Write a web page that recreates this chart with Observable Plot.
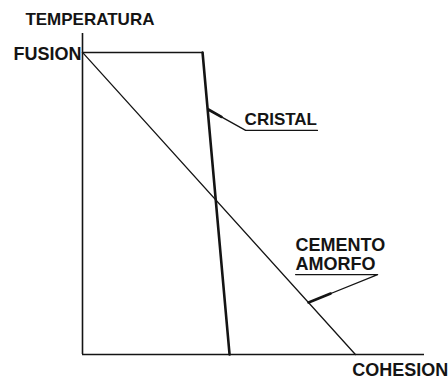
<!DOCTYPE html>
<html>
<head>
<meta charset="utf-8">
<script src="https://cdn.jsdelivr.net/npm/d3@7"></script>
<script src="https://cdn.jsdelivr.net/npm/@observablehq/plot@0.6"></script>
<style>
  html, body { margin: 0; padding: 0; background: #fff; }
  #chart svg { display: block; }
</style>
</head>
<body>
<div id="chart"></div>
<script>
// Abstract diagram values (cohesion 0..100, temperature 0..100)
const fusionTemp = 94.1;
const cristalCohesion = [0, 35.1, 43.0];
const cristalTemp = [fusionTemp, fusionTemp, 0];
const amorfoCohesion = [0, 79.8];
const amorfoTemp = [fusionTemp, 0];

// Leader lines to the curve labels
const cristalLeaderX = [36.8, 47.7, 68.7];
const cristalLeaderY = [76.3, 69.8, 69.8];
const amorfoLeaderX = [66.1, 86.3, 62.3];
const amorfoLeaderY = [16.2, 24.9, 24.9];

// Text labels
const labelText = ["TEMPERATURA", "FUSION", "CRISTAL", "CEMENTO", "AMORFO", "COHESION"];
const labelX = [-16.7, 0, 47.4, 62.3, 62.3, 78.9];
const labelY = [104.2, 93.6, 73.1, 34.1, 28.2, -5.0];
const labelAnchor = ["start", "end", "start", "start", "start", "start"];
const labelSize = [17, 18, 17, 18, 18, 18];

const pts = (xs, ys) => xs.map((x, i) => ({x, y: ys[i]}));
const labels = labelText.map((t, i) => ({t, x: labelX[i], y: labelY[i], a: labelAnchor[i], s: labelSize[i]}));

const ink = "#141414";
const textMark = (d) => Plot.text([d], {
  x: "x", y: "y", text: "t", textAnchor: d.a, fontSize: d.s, fontWeight: "bold",
  fill: ink, dx: d.a === "end" ? -1 : 0, lineAnchor: "middle"
});

const chart = Plot.plot({
  width: 448,
  height: 384,
  marginLeft: 82,
  marginRight: 24,
  marginTop: 33,
  marginBottom: 30,
  x: {domain: [0, 100], axis: null},
  y: {domain: [0, 100], axis: null},
  style: {background: "#fff", fontFamily: "'Liberation Sans', Arial, sans-serif", overflow: "visible"},
  marks: [
    Plot.ruleX([0], {y1: 0, y2: 100, stroke: ink, strokeWidth: 1.6}),
    Plot.ruleY([0], {x1: 0, x2: 100, stroke: ink, strokeWidth: 1.6}),
    Plot.line(pts(cristalCohesion.slice(0, 2), cristalTemp.slice(0, 2)), {x: "x", y: "y", stroke: ink, strokeWidth: 1.5}),
    Plot.line(pts(cristalCohesion.slice(1), cristalTemp.slice(1)), {x: "x", y: "y", stroke: ink, strokeWidth: 2.6}),
    Plot.line(pts(amorfoCohesion, amorfoTemp), {x: "x", y: "y", stroke: ink, strokeWidth: 1.3}),
    Plot.line(pts(cristalLeaderX, cristalLeaderY), {x: "x", y: "y", stroke: ink, strokeWidth: 1.3}),
    Plot.line(pts(cristalLeaderX.slice(0, 2).map((v, i) => i ? cristalLeaderX[0] + (v - cristalLeaderX[0]) * 0.35 : v),
                  cristalLeaderY.slice(0, 2).map((v, i) => i ? cristalLeaderY[0] + (v - cristalLeaderY[0]) * 0.35 : v)),
      {x: "x", y: "y", stroke: ink, strokeWidth: 2.8}),
    Plot.line(pts(amorfoLeaderX, amorfoLeaderY), {x: "x", y: "y", stroke: ink, strokeWidth: 1.2}),
    Plot.line(pts(amorfoLeaderX.slice(0, 2).map((v, i) => i ? amorfoLeaderX[0] + (v - amorfoLeaderX[0]) * 0.32 : v),
                  amorfoLeaderY.slice(0, 2).map((v, i) => i ? amorfoLeaderY[0] + (v - amorfoLeaderY[0]) * 0.32 : v)),
      {x: "x", y: "y", stroke: ink, strokeWidth: 2.6}),
    ...labels.map(textMark)
  ]
});
document.getElementById("chart").append(chart);
</script>
</body>
</html>
